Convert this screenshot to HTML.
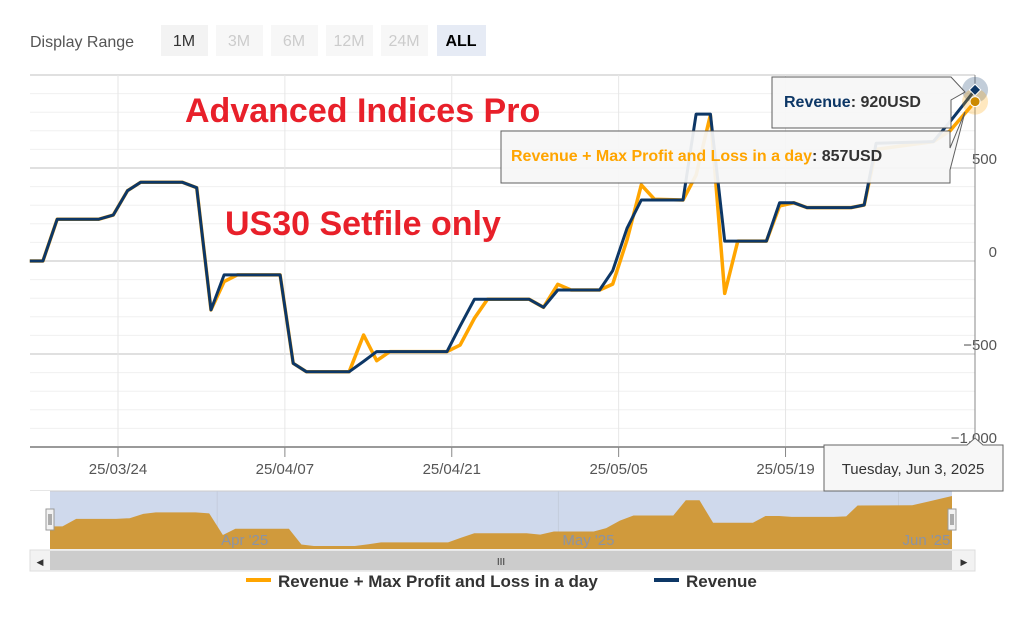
<!DOCTYPE html>
<html><head><meta charset="utf-8"><style>
body{margin:0;width:1018px;height:619px;background:#fff;font-family:"Liberation Sans",sans-serif;overflow:hidden}
svg{display:block}
</style></head><body>
<svg width="1018" height="619">
<g font-size="16">
<text x="30" y="47" fill="#555">Display Range</text>
<rect x="161" y="25" width="47" height="31" fill="#f3f3f3"/><text x="184" y="46" text-anchor="middle" fill="#333">1M</text>
<rect x="216" y="25" width="47" height="31" fill="#f7f7f7"/><text x="239" y="46" text-anchor="middle" fill="#ccc">3M</text>
<rect x="271" y="25" width="47" height="31" fill="#f7f7f7"/><text x="294" y="46" text-anchor="middle" fill="#ccc">6M</text>
<rect x="326" y="25" width="47" height="31" fill="#f7f7f7"/><text x="349" y="46" text-anchor="middle" fill="#ccc">12M</text>
<rect x="381" y="25" width="47" height="31" fill="#f7f7f7"/><text x="404" y="46" text-anchor="middle" fill="#ccc">24M</text>
<rect x="437" y="25" width="49" height="31" fill="#e6ebf5"/><text x="461" y="46" text-anchor="middle" fill="#000" font-weight="bold">ALL</text>
</g>
<g id="grid"></g>
<g id="xaxis"></g>
<g id="yaxis"></g>
<text x="185" y="122" fill="#e8202a" font-size="34" font-weight="bold">Advanced Indices Pro</text>
<text x="225" y="235" fill="#e8202a" font-size="34" font-weight="bold">US30 Setfile only</text>
<g id="series"></g>
<line x1="975" y1="75" x2="975" y2="447" stroke="#888" stroke-width="1"/>
<g id="markers"></g>
<g id="nav"></g>
<g>
<rect x="30" y="550" width="945" height="21" fill="#f2f2f2" stroke="#ddd"/>
<rect x="50" y="551" width="902" height="19" fill="#ccc"/>
<text x="501" y="565" text-anchor="middle" font-size="10" fill="#333">III</text>
<text x="40" y="565" text-anchor="middle" font-size="9" fill="#333">◀</text>
<text x="964" y="565" text-anchor="middle" font-size="9" fill="#333">▶</text>
</g>
<g font-size="17" fill="#333" font-weight="bold">
<line x1="246" y1="580" x2="271" y2="580" stroke="#ffa500" stroke-width="4"/>
<text x="278" y="587">Revenue + Max Profit and Loss in a day</text>
<line x1="654" y1="580" x2="679" y2="580" stroke="#0d3766" stroke-width="4"/>
<text x="686" y="587">Revenue</text>
</g>
<g>
<path d="M772 77 H951 L965 92 L951 100 V128 H772 Z" fill="#f7f7f7" stroke="#555" opacity="0.95"/>
<text x="784" y="107" font-size="16" font-weight="bold"><tspan fill="#0d3766">Revenue</tspan><tspan fill="#333">: 920USD</tspan></text>
</g>
<g>
<path d="M501 131 H950 V148 L965 112 L950 170 V183 H501 Z" fill="#f7f7f7" stroke="#555" opacity="0.93"/>
<text x="511" y="161" font-size="16" font-weight="bold"><tspan fill="#ffa500">Revenue + Max Profit and Loss in a day</tspan><tspan fill="#333">: 857USD</tspan></text>
</g>
<g>
<path d="M824 445 H967 L975 438 L983 445 H1003 V491 H824 Z" fill="#f7f7f7" stroke="#666"/>
<text x="913" y="474" text-anchor="middle" font-size="15" fill="#333">Tuesday, Jun 3, 2025</text>
</g>
</svg>
<script>
const days=[-7.4,-6.3,-5.1,-1.6,-0.4,0.8,1.9,5.4,6.6,7.8,8.9,10,13.6,14.7,15.8,19.4,20.6,21.7,22.8,27.6,28.7,29.9,31,34.5,35.7,36.9,38,40.4,41.5,42.7,43.9,45,47.4,48.5,49.7,50.9,52,54.4,55.5,56.7,57.8,61.5,62.6,63.6,68.4,69.8,71.9];
const revenue=[0,0,225,225,247,378,423,423,394,-263,-75,-75,-75,-550,-595,-595,-540,-487,-487,-487,-350,-206,-206,-206,-249,-156,-156,-156,-52,176,328,328,328,790,790,107,107,107,313,313,287,287,301,633,642,749,920];
const maxPL=[0,0,225,225,247,378,423,423,394,-263,-111,-75,-75,-550,-595,-595,-398,-536,-487,-487,-452,-308,-206,-206,-249,-125,-156,-156,-124,113,409,332,328,462,785,-174,107,107,296,313,287,287,301,600,642,700,857];
const yTicks=[500,0,-500,-1000];
const yTickLabels=["500","0","−500","−1,000"];
const xTicks=[0,14,28,42,56];
const xTickLabels=["25/03/24","25/04/07","25/04/21","25/05/05","25/05/19"];
const navTicks=[8,38,67.9];
const navTickLabels=["Apr '25","May '25","Jun '25"];
const NS="http://www.w3.org/2000/svg";
const X=d=>118+d*11.92, Y=v=>261-v*0.186;
const NX=d=>50+(d-days[0])/(days[days.length-1]-days[0])*902, NY=v=>546-(v+595)/1515*50;
function mk(tag,at,parent){const e=document.createElementNS(NS,tag);for(const k in at)e.setAttribute(k,at[k]);document.getElementById(parent).appendChild(e);return e;}
for(let v=-1000;v<=1000;v+=100){const l=mk('line',{x1:30,x2:975,y1:Y(v),y2:Y(v),stroke:v%500===0?'#e0e0e0':'#f0f0f0','stroke-width':v%500===0?2:1},'grid');

}
mk('line',{x1:30,x2:975,y1:447,y2:447,stroke:'#555','stroke-width':1},'xaxis');
xTicks.forEach((d,i)=>{const g=mk('line',{x1:X(d),x2:X(d),y1:75,y2:447,stroke:'#e6e6e6'},'grid');


mk('line',{x1:X(d),x2:X(d),y1:447,y2:457,stroke:'#888'},'xaxis');
const t=mk('text',{x:X(d),y:474,'text-anchor':'middle','font-size':15,fill:'#555'},'xaxis');t.textContent=xTickLabels[i];

});
yTicks.forEach((v,i)=>{const t=mk('text',{x:997,y:Y(v)-4,'text-anchor':'end','font-size':15,fill:'#555'},'yaxis');t.textContent=yTickLabels[i];

});
const pts=(arr,fx,fy)=>arr.map((v,i)=>fx(days[i]).toFixed(1)+','+fy(v).toFixed(1)).join(' ');
const o=mk('polyline',{points:pts(maxPL,X,Y),fill:'none',stroke:'#ffa500','stroke-width':3.5,'stroke-linejoin':'round'},'series');


const b=mk('polyline',{points:pts(revenue,X,Y),fill:'none',stroke:'#0d3766','stroke-width':3,'stroke-linejoin':'round'},'series');


const n=days.length-1;
mk('circle',{cx:X(days[n]),cy:Y(revenue[n]),r:13,fill:'#0d3766',opacity:0.25},'markers');
mk('circle',{cx:X(days[n]),cy:Y(maxPL[n]),r:13,fill:'#ffa500',opacity:0.25},'markers');
const mo=mk('circle',{cx:X(days[n]),cy:Y(maxPL[n]),r:5,fill:'#cc8a00',stroke:'#fff'},'markers');


const mb=mk('rect',{x:X(days[n])-4,y:Y(revenue[n])-4,width:8,height:8,fill:'#0d3766',stroke:'#fff',transform:`rotate(45 ${X(days[n])} ${Y(revenue[n])})`},'markers');


const bg=mk('rect',{x:50,y:491,width:902,height:58,fill:'#cfd9ec'},'nav');


mk('line',{x1:30,x2:975,y1:491,y2:491,stroke:'#ccc'},'nav');
mk('rect',{x:30,y:491,width:20,height:58,fill:'#fff'},'nav');
navTicks.forEach((d,i)=>{mk('line',{x1:NX(d)-8,x2:NX(d)-8,y1:491,y2:549,stroke:'#c4cddd'},'nav');});
const na=mk('polygon',{points:NX(days[0])+',549 '+pts(revenue,NX,NY)+' '+NX(days[n])+',549',fill:'#d09a3c'},'nav');


navTicks.forEach((d,i)=>{const t=mk('text',{x:NX(d)-4,y:545,'font-size':15,fill:'#8a93a6'},'nav');t.textContent=navTickLabels[i];

});
[50,952].forEach(x=>{const h=mk('rect',{x:x-4,y:509,width:8,height:21,fill:'#f2f2f2',stroke:'#999'},'nav');


mk('line',{x1:x-1,x2:x-1,y1:514,y2:525,stroke:'#666'},'nav');mk('line',{x1:x+1,x2:x+1,y1:514,y2:525,stroke:'#666'},'nav');});
</script>
</body></html>
